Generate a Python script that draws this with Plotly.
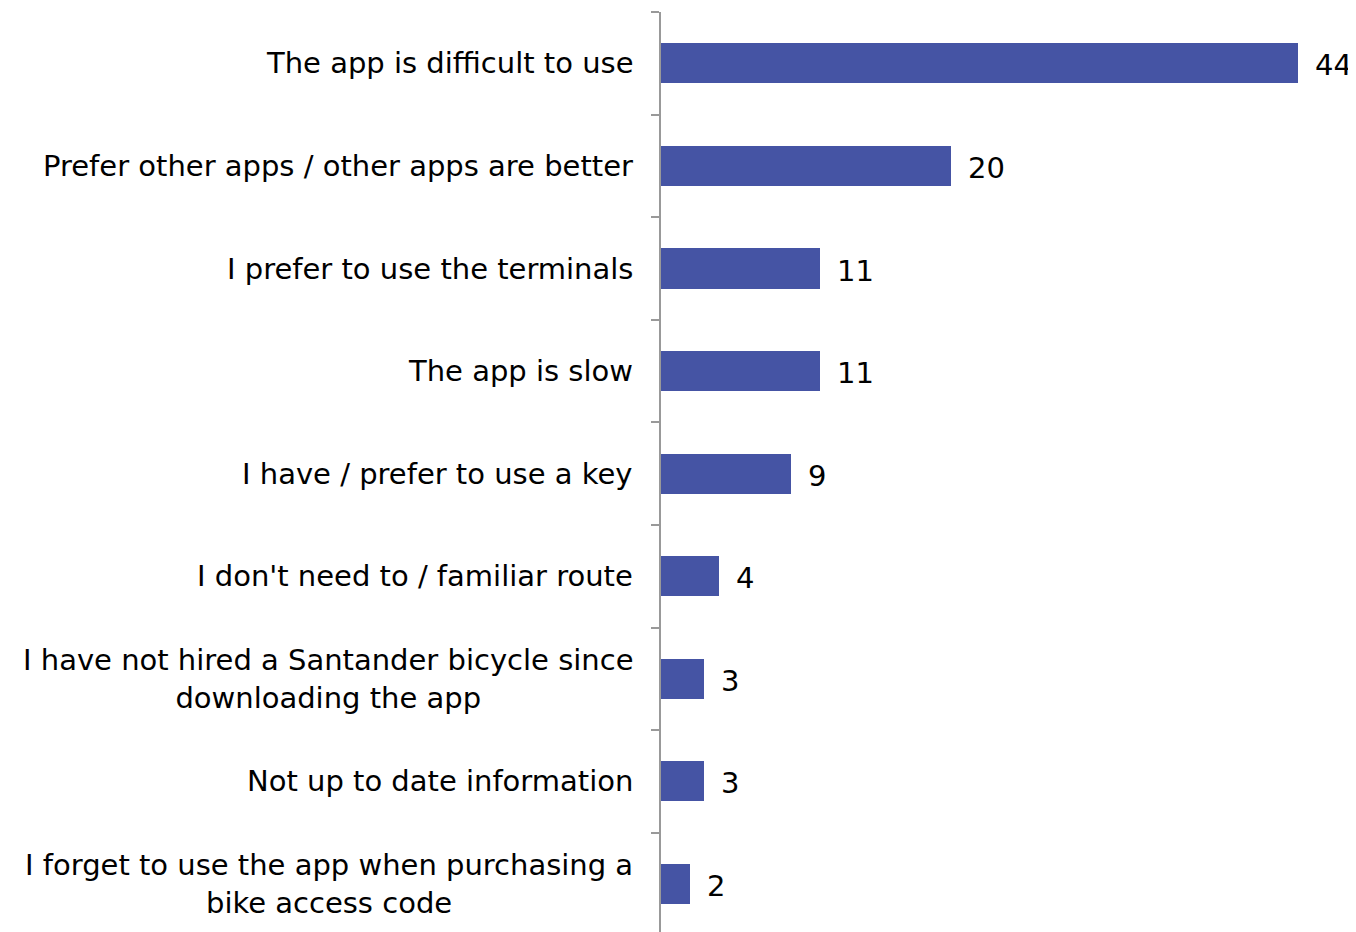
import plotly.graph_objects as go

# Reasons for not using the app (%)
categories = [
    "The app is difficult to use",
    "Prefer other apps / other apps are better",
    "I prefer to use the terminals",
    "The app is slow",
    "I have / prefer to use a key",
    "I don't need to / familiar route",
    "I have not hired a Santander bicycle since<br>downloading the app",
    "Not up to date information",
    "I forget to use the app when purchasing a<br>bike access code",
]
values = [44, 20, 11, 11, 9, 4, 3, 3, 2]

positions = list(range(len(categories)))
font_family = "Verdana, DejaVu Sans, sans-serif"
bar_colour = "#4554A4"
axis_colour = "#999999"

fig = go.Figure()
fig.add_trace(go.Bar(
    x=values,
    y=positions,
    orientation="h",
    width=0.39,
    marker=dict(color=bar_colour, line=dict(width=0)),
    hoverinfo="x+y",
))

annotations = []
# category labels, centred lines, right edge left of the axis
for pos, label in zip(positions, categories):
    annotations.append(dict(
        x=0, xref="paper", y=pos, yref="y",
        text=label, showarrow=False,
        xanchor="right", yanchor="middle", align="center",
        xshift=-26,
        font=dict(family=font_family, size=29, color="#000000"),
    ))
# value labels at the bar ends
for pos, val in zip(positions, values):
    annotations.append(dict(
        x=val, xref="x", y=pos, yref="y",
        text=str(val), showarrow=False,
        xanchor="left", yanchor="middle",
        xshift=15, yshift=-2,
        font=dict(family=font_family, size=29, color="#000000"),
    ))

# page body has an 8px margin, so the figure is sized to fit the window
fig.update_layout(
    width=1348,
    height=924,
    margin=dict(l=653, r=0, t=4, b=0),
    paper_bgcolor="white",
    plot_bgcolor="white",
    showlegend=False,
    bargap=0,
    annotations=annotations,
    xaxis=dict(
        range=[0, 48],
        showgrid=False,
        zeroline=False,
        showticklabels=False,
        showline=False,
    ),
    yaxis=dict(
        range=[8.467, -0.5],
        tickvals=[p - 0.5 for p in range(len(categories) + 1)],
        showticklabels=False,
        ticks="outside",
        ticklen=8,
        tickwidth=1.5,
        tickcolor=axis_colour,
        showline=True,
        linecolor=axis_colour,
        linewidth=1.5,
        showgrid=False,
        zeroline=False,
    ),
)

fig.write_html("out.html")
